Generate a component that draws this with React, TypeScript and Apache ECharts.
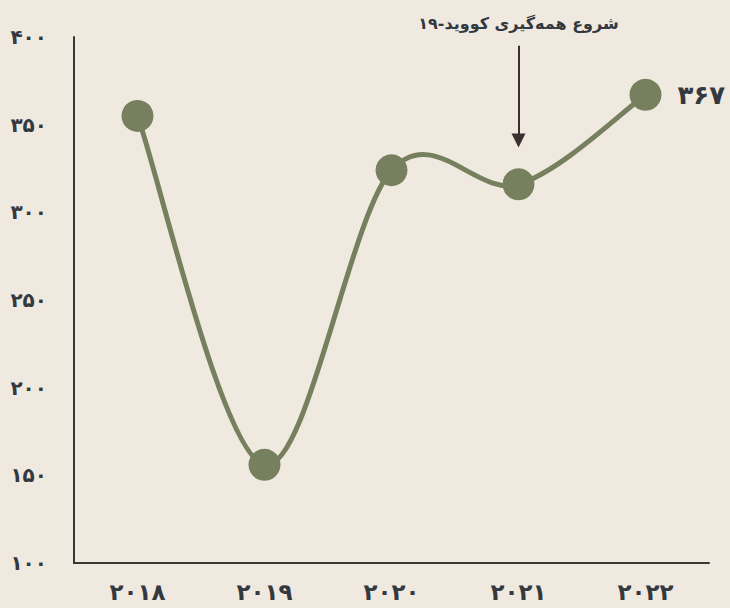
import React, { useEffect, useRef } from "react";
import * as echarts from "echarts";

const categories = ["۲۰۱۸", "۲۰۱۹", "۲۰۲۰", "۲۰۲۱", "۲۰۲۲"];
const values = [355, 156, 324, 316, 367];
const yTickLabels: Record<number, string> = {
  100: "۱۰۰",
  150: "۱۵۰",
  200: "۲۰۰",
  250: "۲۵۰",
  300: "۳۰۰",
  350: "۳۵۰",
  400: "۴۰۰",
};
const lastLabel = "۳۶۷";
const annotationText = "شروع همه‌گیری کووید-۱۹";
const annotationCategory = "۲۰۲۱";
const arrowFrom = 395;
const arrowTo = 341;

export default function App() {
  const ref = useRef<HTMLDivElement>(null);
  useEffect(() => {
    if (!ref.current) return;
    const chart = echarts.init(ref.current, null, { renderer: "svg" });
    const font = "DejaVu Sans";
    const green = "#76805e";
    const textColor = "#33393f";
    chart.setOption({
      animation: false,
      backgroundColor: "#f0e9e0",
      grid: { left: 74, right: 21, top: 37, bottom: 45 },
      xAxis: {
        type: "category",
        data: categories,
        boundaryGap: true,
        axisLine: { lineStyle: { color: "#3b3535", width: 2 } },
        axisTick: { show: false },
        axisLabel: {
          margin: 17,
          fontFamily: font,
          fontWeight: "bold",
          fontSize: 23,
          lineHeight: 23,
          color: textColor,
        },
      },
      yAxis: {
        type: "value",
        min: 100,
        max: 400,
        interval: 50,
        splitLine: { show: false },
        axisLine: { show: true, lineStyle: { color: "#3b3535", width: 2 } },
        axisTick: { show: false },
        axisLabel: {
          margin: 27,
          fontFamily: font,
          fontWeight: "bold",
          fontSize: 20,
          color: textColor,
          formatter: (v: number) => yTickLabels[v] ?? String(v),
        },
      },
      series: [
        {
          type: "custom",
          z: 2,
          silent: true,
          data: values.map((v, i) => [i, v]),
          renderItem: (params: any, api: any) => {
            if (params.dataIndex !== 0) return null;
            const pts = values.map((v, i) => api.coord([i, v]));
            let d = `M${pts[0][0]},${pts[0][1]}`;
            for (let i = 0; i < pts.length - 1; i++) {
              const p0 = pts[Math.max(i - 1, 0)];
              const p1 = pts[i];
              const p2 = pts[i + 1];
              const p3 = pts[Math.min(i + 2, pts.length - 1)];
              const c1x = p1[0] + (p2[0] - p0[0]) / 6;
              const c1y = p1[1] + (p2[1] - p0[1]) / 6;
              const c2x = p2[0] - (p3[0] - p1[0]) / 6;
              const c2y = p2[1] - (p3[1] - p1[1]) / 6;
              d += ` C${c1x},${c1y} ${c2x},${c2y} ${p2[0]},${p2[1]}`;
            }
            return {
              type: "path",
              shape: { pathData: d },
              style: { fill: "none", stroke: green, lineWidth: 5 },
            };
          },
        },
        {
          type: "scatter",
          z: 3,
          data: values.map((v, i) =>
            i === values.length - 1
              ? {
                  value: v,
                  label: {
                    show: true,
                    position: "right",
                    distance: 16,
                    formatter: lastLabel,
                    fontFamily: font,
                    fontWeight: "bold",
                    fontSize: 26,
                    color: textColor,
                  },
                }
              : v
          ),
          symbol: "circle",
          symbolSize: 32,
          itemStyle: { color: green, opacity: 1 },
          markLine: {
            silent: true,
            symbol: ["none", "triangle"],
            symbolSize: [14, 14],
            lineStyle: { color: "#3a3030", width: 2, type: "solid" },
            label: {
              show: true,
              position: "start",
              distance: 14,
              formatter: annotationText,
              fontFamily: font,
              fontWeight: "bold",
              fontSize: 16,
              color: textColor,
            },
            data: [
              [
                { coord: [annotationCategory, arrowFrom] },
                { coord: [annotationCategory, arrowTo] },
              ],
            ],
          },
        },
      ],
    });
    return () => chart.dispose();
  }, []);
  return (
    <div
      ref={ref}
      style={{ position: "fixed", left: 0, top: 0, width: 730, height: 608 }}
    />
  );
}
